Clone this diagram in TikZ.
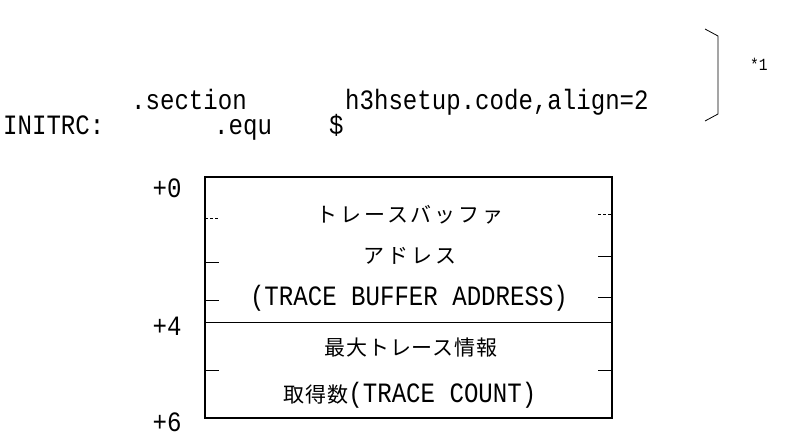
\documentclass[tikz,border=0pt]{standalone}
\usepackage{fontspec}
\newfontfamily\mono[FakeStretch=0.86]{Liberation Mono}
\newfontfamily\jp{Noto Sans CJK JP}
\newcommand\monosz{\mono\fontsize{28}{28}\selectfont}
\newcommand\jpsz{\jp\fontsize{21}{21}\selectfont\addfontfeature{LetterSpace=4}}
\newcommand\jpszwide{\jp\fontsize{21}{21}\selectfont\addfontfeature{LetterSpace=13}}
\begin{document}
\begin{tikzpicture}[x=1pt,y=-1pt,
  code/.style={font=\monosz, inner sep=0pt, anchor=base west},
  offlabel/.style={font=\monosz, inner sep=0pt, anchor=center},
  jtext/.style={font=\jpsz, inner sep=0pt, anchor=center},
  jwide/.style={font=\jpszwide, inner sep=0pt, anchor=center},
  frame/.style={line width=1.8pt},
  divline/.style={line width=0.9pt},
  tickmark/.style={line width=0.9pt},
  faint/.style={line width=0.7pt, densely dashed},
  brace/.style={line width=0.8pt}]
\useasboundingbox (0,0) rectangle (794,436);
% code lines
\node[code] (sec) at (131,109) {.section};
\node[code] (arg) at (345,109) {h3hsetup.code,align=2};
\node[code] (lab) at (3,134) {INITRC:};
\node[code] (equ) at (214,134) {.equ};
\node[code] (dol) at (329,134) {\$};
% bracket and note
\coordinate (bt1) at (705,29);
\coordinate (bt2) at (718,36);
\coordinate (bb2) at (718,114);
\coordinate (bb1) at (705,121);
\draw[brace] (bt1) -- (bt2) -- (bb2) -- (bb1);
\node[font=\mono\fontsize{17}{17}\selectfont, inner sep=0pt, anchor=west] (note) at (750,64) {*1};
% frame
\coordinate (tl) at (205,177);
\coordinate (br) at (612,418);
\coordinate (dl) at (205,322);
\coordinate (dr) at (612,322);
\draw[divline] (dl) -- (dr);
\draw[faint] (205,218) -- (219,218);
\draw[faint] (598,214) -- (612,214);
\draw[tickmark] (205,262) -- (219,262);
\draw[tickmark] (598,256) -- (612,256);
\draw[tickmark] (205,300) -- (219,300);
\draw[tickmark] (598,297) -- (612,297);
\draw[tickmark] (205,370) -- (219,370);
\draw[tickmark] (598,370) -- (612,370);
\draw[frame] (tl) rectangle (br);
% offsets
\node[offlabel] (o0) at (167,188) {+0};
\node[offlabel] (o4) at (167,326) {+4};
\node[offlabel] (o6) at (167,422) {+6};
% contents
\node[jwide] (t1) at (410,215) {トレースバッファ};
\node[jwide] (t2) at (410,256) {アドレス};
\node[font=\monosz, inner sep=0pt] (t3) at (409,298) {(TRACE BUFFER ADDRESS)};
\node[jtext] (t4) at (411,348) {最大トレース情報};
\node[inner sep=0pt] (t5) at (410,395) {{\jpsz 取得数}{\monosz (TRACE COUNT)}};
\end{tikzpicture}
\end{document}
